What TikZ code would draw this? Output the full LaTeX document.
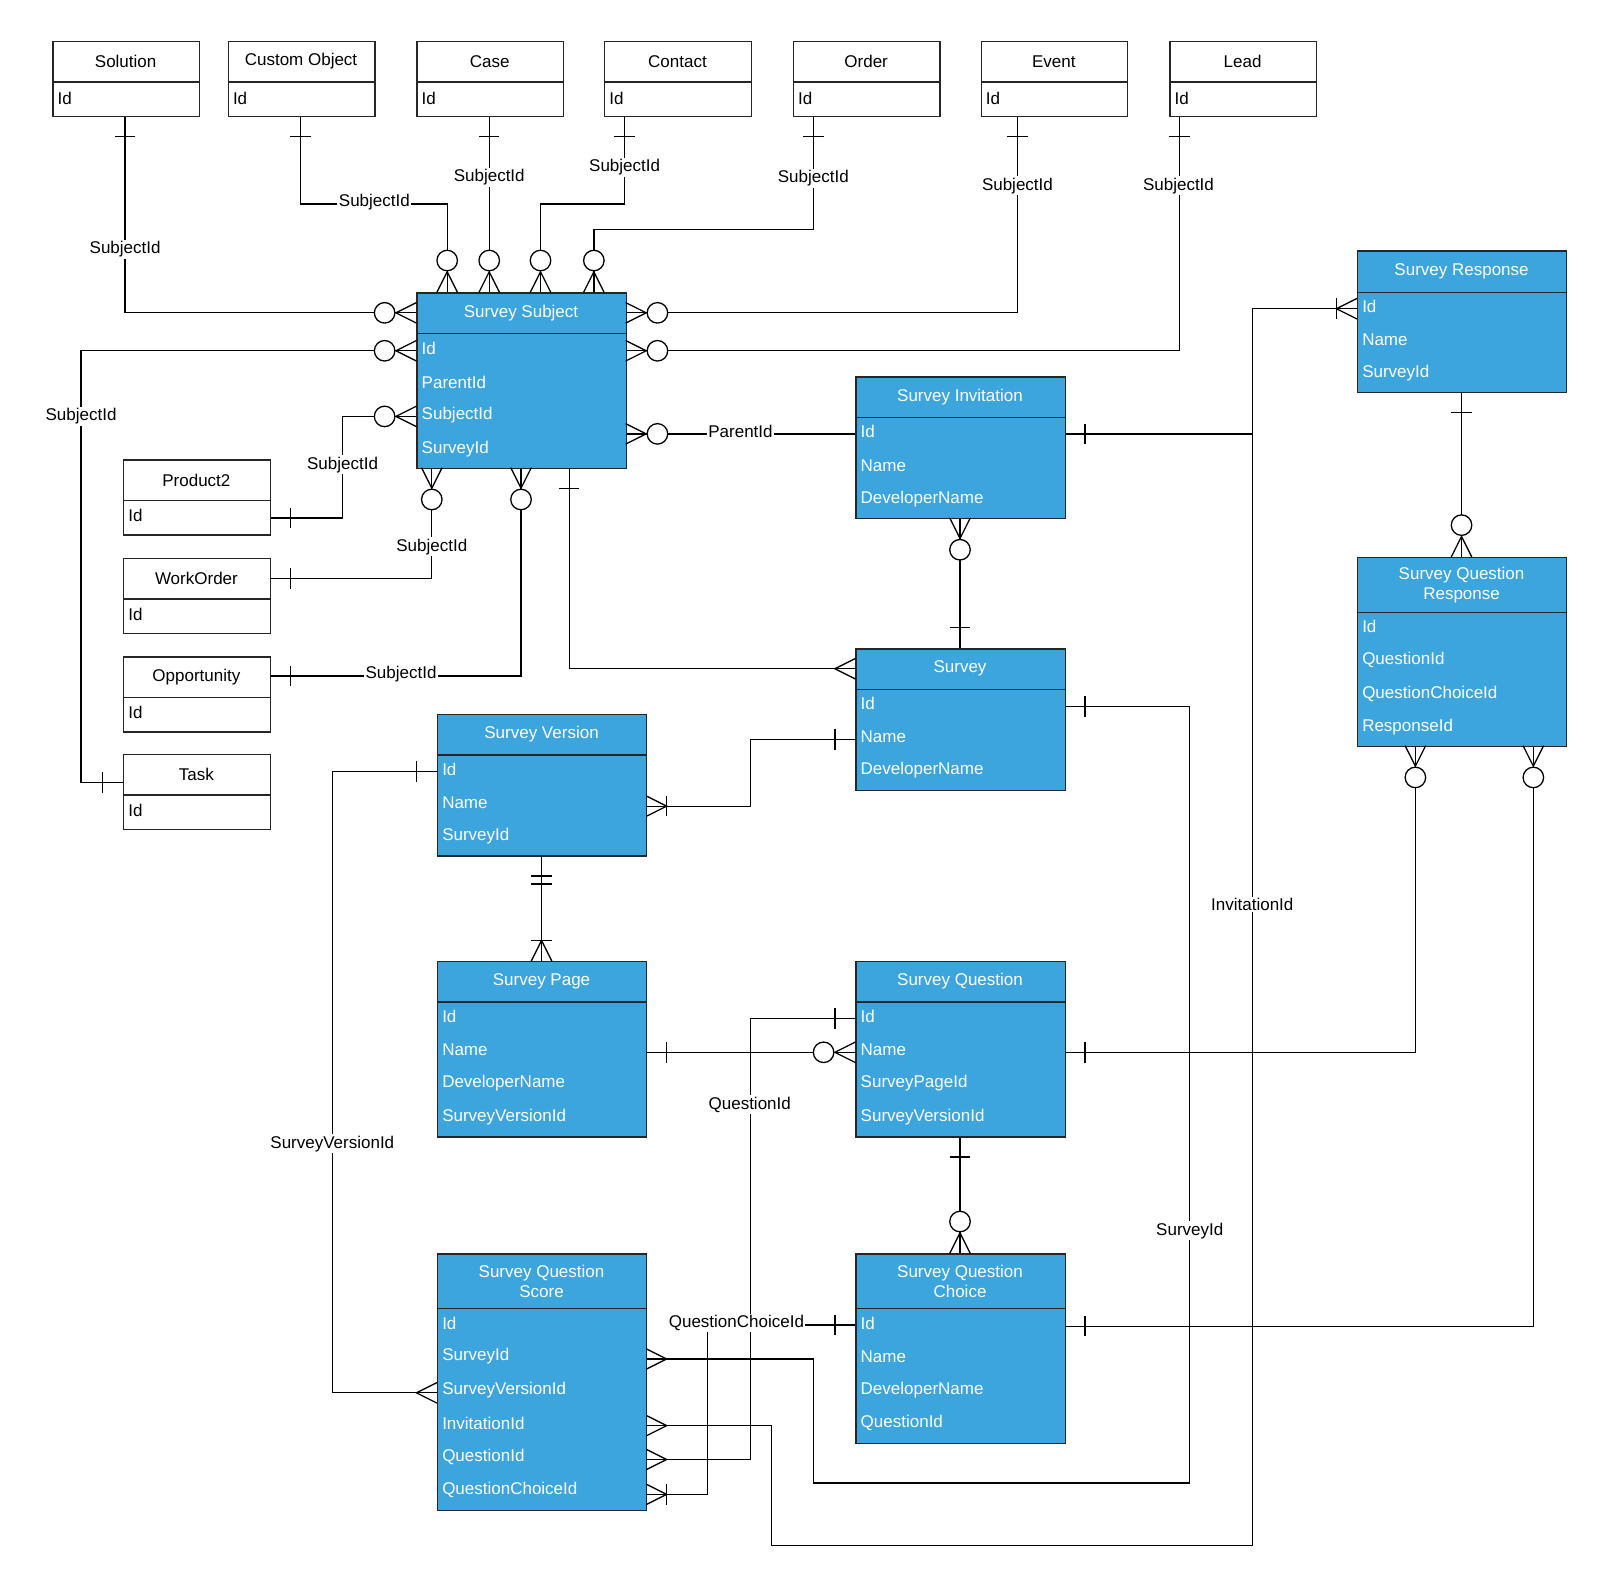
\documentclass[tikz,border=0pt]{standalone}
\usepackage{fontspec}
\setmainfont{Liberation Sans}
\definecolor{eblue}{HTML}{3DA5DD}
\tikzset{
 dirR/.style={x={(1.0256pt,0pt)},y={(0pt,1.0256pt)}},
 dirL/.style={x={(-1.0256pt,0pt)},y={(0pt,1.0256pt)}},
 dirD/.style={x={(0pt,-1.0256pt)},y={(1.0256pt,0pt)}},
 dirU/.style={x={(0pt,1.0256pt)},y={(1.0256pt,0pt)}},
 boxb/.style={draw=black!85,line width=1.3pt,fill=eblue,inner sep=0pt},
 boxw/.style={draw=black!85,line width=1.3pt,fill=white,inner sep=0pt},
 titleb/.style={text=white,font=\fontsize{17}{20}\selectfont,align=center,inner sep=0pt},
 titlew/.style={text=black,font=\fontsize{17}{20}\selectfont,align=center,inner sep=0pt},
 rowb/.style={text=white,font=\fontsize{17}{20}\selectfont,anchor=west,inner sep=0pt},
 roww/.style={text=black,font=\fontsize{17}{20}\selectfont,anchor=west,inner sep=0pt},
 lbl/.style={fill=white,inner sep=1.5pt,font=\fontsize{17}{20}\selectfont},
 conn/.style={line width=1.3pt},
}
\newcommand\ent[8]{%
 \node[box#7,minimum width={#6*1.0256pt},minimum height={(#5-#3)*1.0256pt},anchor=north west] (#1) at (#2,#3) {};
 \draw[line width=1.3pt,black!85] (#2,#4) -- ++(#6,0);
 \node[title#7] at ({#2+#6/2},{(#3+#4)/2}) {#8};}
\newcommand\rows[4]{\foreach \t [count=\i] in {#4} {\node[row#3] at ({#1+5},{#2+(\i-1)*32.6}) {\t};}}
\def\Szm{\draw (0,10)--(20,0)--(0,-10); \draw[fill=white] (31,0) circle[radius=10];}
\def\Scr{\draw (0,10)--(20,0)--(0,-10);}
\def\Stk{\draw (20,-10)--(20,10);}
\def\Som{\Scr\Stk}
\def\Sdt{\draw (20,-10)--(20,10) (28,-10)--(28,10);}
\newcommand\sym[4]{\begin{scope}[shift={(#2,#3)},dir#4,line width=1.3pt]#1\end{scope}}
\begin{document}
\begin{tikzpicture}[x=1.0256pt,y=-1.0256pt]
\useasboundingbox[fill=white] (0,0) rectangle (1560,1543);
% ---------- connectors ----------
\begin{scope}[conn]
\draw (122,113) -- (122,305) -- (406,305);
\draw (293,113) -- (293,199) -- (436,199) -- (436,285);
\draw (477,113) -- (477,285);
\draw (609,113) -- (609,199) -- (527,199) -- (527,285);
\draw (793,113) -- (793,224) -- (579,224) -- (579,285);
\draw (992,113) -- (992,305) -- (610,305);
\draw (1150,113) -- (1150,342) -- (610,342);
\draw (406,342) -- (79,342) -- (79,763) -- (120,763);
\draw (263,505) -- (334,505) -- (334,406) -- (406,406);
\draw (263,564) -- (421,564) -- (421,456);
\draw (263,659) -- (508,659) -- (508,456);
\draw (610,423) -- (834,423);
\draw (555,456) -- (555,652) -- (834,652);
\draw (936,505) -- (936,632);
\draw (1038,423) -- (1221,423) -- (1221,1507) -- (752,1507) -- (752,1390) -- (630,1390);
\draw (1323,301) -- (1221,301) -- (1221,423);
\draw (1425,382) -- (1425,543);
\draw (1038,689) -- (1160,689) -- (1160,1446) -- (793,1446) -- (793,1325) -- (630,1325);
\draw (834,721) -- (732,721) -- (732,786) -- (630,786);
\draw (528,834) -- (528,937);
\draw (426,752) -- (324,752) -- (324,1358) -- (426,1358);
\draw (630,1026) -- (834,1026);
\draw (834,993) -- (732,993) -- (732,1423) -- (630,1423);
\draw (1038,1026) -- (1380,1026) -- (1380,727);
\draw (936,1108) -- (936,1222);
\draw (1038,1293) -- (1495,1293) -- (1495,727);
\draw (834,1292) -- (690,1292) -- (690,1457) -- (630,1457);
\end{scope}
% ---------- entities ----------
\ent{solution}{51}{40}{80}{113}{143}{w}{Solution}\rows{51}{96}{w}{Id}
\ent{custom}{222}{40}{80}{113}{143}{w}{Custom Object}\rows{222}{96}{w}{Id}
\ent{case}{406}{40}{80}{113}{143}{w}{Case}\rows{406}{96}{w}{Id}
\ent{contact}{589}{40}{80}{113}{143}{w}{Contact}\rows{589}{96}{w}{Id}
\ent{order}{773}{40}{80}{113}{143}{w}{Order}\rows{773}{96}{w}{Id}
\ent{event}{956}{40}{80}{113}{143}{w}{Event}\rows{956}{96}{w}{Id}
\ent{lead}{1140}{40}{80}{113}{143}{w}{Lead}\rows{1140}{96}{w}{Id}
\ent{product}{120}{448}{488}{521}{143}{w}{Product2}\rows{120}{503}{w}{Id}
\ent{workorder}{120}{544}{584}{617}{143}{w}{WorkOrder}\rows{120}{599}{w}{Id}
\ent{opp}{120}{640}{680}{713}{143}{w}{Opportunity}\rows{120}{695}{w}{Id}
\ent{task}{120}{735}{775}{808}{143}{w}{Task}\rows{120}{790}{w}{Id}
\ent{ss}{406}{285}{325}{456}{204}{b}{Survey Subject}\rows{406}{340}{b}{Id,ParentId,SubjectId,SurveyId}
\ent{si}{834}{367}{407}{505}{204}{b}{Survey Invitation}\rows{834}{421}{b}{Id,Name,DeveloperName}
\ent{sr}{1323}{244}{285}{382}{204}{b}{Survey Response}\rows{1323}{299}{b}{Id,Name,SurveyId}
\ent{sqr}{1323}{543}{597}{727}{204}{b}{Survey Question\\Response}\rows{1323}{611}{b}{Id,QuestionId,QuestionChoiceId,ResponseId}
\ent{survey}{834}{632}{672}{770}{204}{b}{Survey}\rows{834}{686}{b}{Id,Name,DeveloperName}
\ent{sv}{426}{696}{736}{834}{204}{b}{Survey Version}\rows{426}{750}{b}{Id,Name,SurveyId}
\ent{sp}{426}{937}{977}{1108}{204}{b}{Survey Page}\rows{426}{991}{b}{Id,Name,DeveloperName,SurveyVersionId}
\ent{sq}{834}{937}{977}{1108}{204}{b}{Survey Question}\rows{834}{991}{b}{Id,Name,SurveyPageId,SurveyVersionId}
\ent{sqs}{426}{1222}{1276}{1472}{204}{b}{Survey Question\\Score}\rows{426}{1290}{b}{Id,SurveyId,SurveyVersionId,InvitationId,QuestionId,QuestionChoiceId}
\ent{sqc}{834}{1222}{1276}{1407}{204}{b}{Survey Question\\Choice}\rows{834}{1290}{b}{Id,Name,DeveloperName,QuestionId}
% ---------- symbols ----------
\sym{\Stk}{122}{113}{D}\sym{\Stk}{293}{113}{D}\sym{\Stk}{477}{113}{D}\sym{\Stk}{609}{113}{D}
\sym{\Stk}{793}{113}{D}\sym{\Stk}{992}{113}{D}\sym{\Stk}{1150}{113}{D}
\sym{\Szm}{406}{305}{L}\sym{\Szm}{406}{342}{L}\sym{\Szm}{406}{406}{L}
\sym{\Szm}{436}{285}{U}\sym{\Szm}{477}{285}{U}\sym{\Szm}{527}{285}{U}\sym{\Szm}{579}{285}{U}
\sym{\Szm}{610}{305}{R}\sym{\Szm}{610}{342}{R}\sym{\Szm}{610}{423}{R}
\sym{\Szm}{421}{456}{D}\sym{\Szm}{508}{456}{D}\sym{\Stk}{555}{456}{D}
\sym{\Stk}{120}{763}{L}\sym{\Stk}{263}{505}{R}\sym{\Stk}{263}{564}{R}\sym{\Stk}{263}{659}{R}
\sym{\Scr}{834}{652}{L}
\sym{\Szm}{936}{505}{D}\sym{\Stk}{936}{632}{U}
\sym{\Stk}{1038}{423}{R}\sym{\Som}{1323}{301}{L}
\sym{\Stk}{1425}{382}{D}\sym{\Szm}{1425}{543}{U}
\sym{\Stk}{1038}{689}{R}\sym{\Stk}{834}{721}{L}\sym{\Som}{630}{786}{R}
\sym{\Sdt}{528}{834}{D}\sym{\Som}{528}{937}{U}
\sym{\Stk}{426}{752}{L}\sym{\Scr}{426}{1358}{L}
\sym{\Stk}{630}{1026}{R}\sym{\Szm}{834}{1026}{L}
\sym{\Stk}{834}{993}{L}\sym{\Stk}{1038}{1026}{R}\sym{\Szm}{1380}{727}{D}
\sym{\Stk}{936}{1108}{D}\sym{\Szm}{936}{1222}{U}
\sym{\Stk}{1038}{1293}{R}\sym{\Szm}{1495}{727}{D}
\sym{\Stk}{834}{1292}{L}\sym{\Som}{630}{1457}{R}
\sym{\Scr}{630}{1325}{R}\sym{\Scr}{630}{1390}{R}\sym{\Scr}{630}{1423}{R}
% ---------- labels ----------
\node[lbl] (l1) at (122,243) {SubjectId};
\node[lbl] (l2) at (365,197) {SubjectId};
\node[lbl] (l3) at (477,173) {SubjectId};
\node[lbl] (l4) at (609,163) {SubjectId};
\node[lbl] (l5) at (793,174) {SubjectId};
\node[lbl] (l6) at (992,181) {SubjectId};
\node[lbl] (l7) at (1149,181) {SubjectId};
\node[lbl] (l8) at (79,406) {SubjectId};
\node[lbl] (l9) at (334,453) {SubjectId};
\node[lbl] (l10) at (421,533) {SubjectId};
\node[lbl] (l11) at (391,657) {SubjectId};
\node[lbl] (l12) at (722,421) {ParentId};
\node[lbl] (l13) at (1221,882) {InvitationId};
\node[lbl] (l14) at (1160,1200) {SurveyId};
\node[lbl] (l15) at (324,1115) {SurveyVersionId};
\node[lbl] (l16) at (731,1077) {QuestionId};
\node[lbl] (l17) at (718,1290) {QuestionChoiceId};
\end{tikzpicture}
\end{document}
